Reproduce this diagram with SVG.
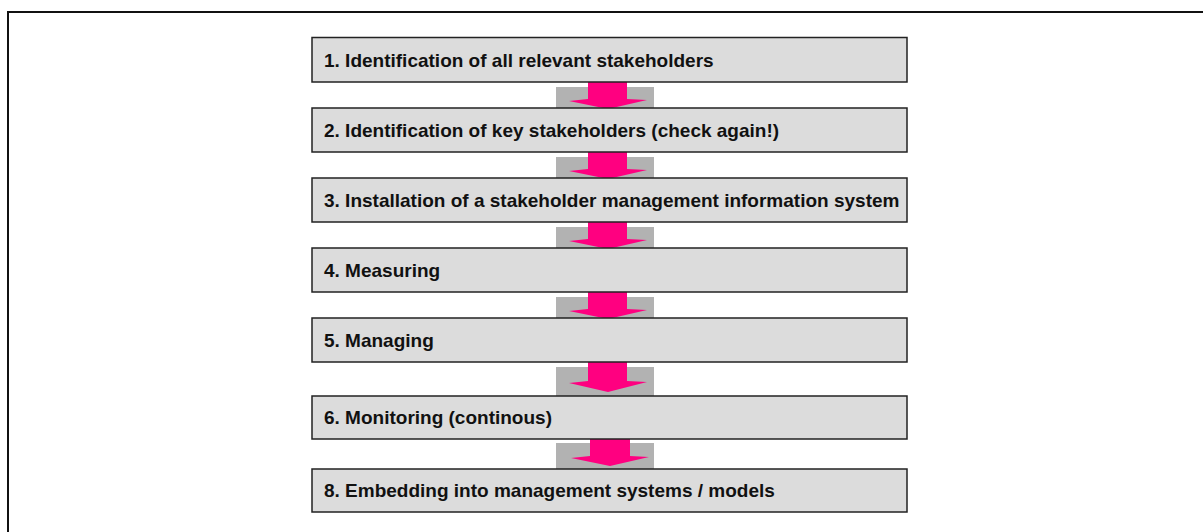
<svg xmlns="http://www.w3.org/2000/svg" width="1203" height="532" viewBox="0 0 1203 532">
<style>
.box{fill:#dcdcdc;stroke:#222;stroke-width:1.5}
.lbl{font-family:"Liberation Sans",Arial,sans-serif;font-weight:bold;font-size:19px;fill:#111}
.pad{fill:#b2b2b2}
.arr{fill:#ff0080}
</style>
<rect x="0" y="0" width="1203" height="532" fill="#fff"/>
<rect x="8" y="12" width="1300" height="600" fill="none" stroke="#111" stroke-width="2"/>
<g id="connectors">
<g transform="translate(0,82)"><rect class="pad" x="556" y="5" width="98" height="27"/><polygon class="arr" points="588,0 627,0 627,17 647,18 608,27 569,19 588,17"/></g>
<g transform="translate(0,152)"><rect class="pad" x="556" y="5" width="98" height="27"/><polygon class="arr" points="588,0 627,0 627,17 647,18 608,27 569,19 588,17"/></g>
<g transform="translate(0,222)"><rect class="pad" x="556" y="5" width="98" height="27"/><polygon class="arr" points="588,0 627,0 627,17 647,18 608,27 569,19 588,17"/></g>
<g transform="translate(0,292)"><rect class="pad" x="556" y="5" width="98" height="27"/><polygon class="arr" points="588,0 627,0 627,17 647,18 608,27 569,19 588,17"/></g>
<g transform="translate(0,362)"><rect class="pad" x="556" y="5" width="98" height="31"/><polygon class="arr" points="588,0 627,0 627,19 647,20 608,30 569,21 588,19"/></g>
<g transform="translate(0,439)"><rect class="pad" x="556" y="4" width="98" height="27"/><polygon class="arr" points="590,0 630,0 630,17 649,18 610,27 571,19 590,17"/></g>
</g>
<g id="n1"><rect class="box" x="312" y="37.5" width="595" height="44.5"/><text class="lbl" x="324" y="67">1. Identification of all relevant stakeholders</text></g>
<g id="n2"><rect class="box" x="312" y="108" width="595" height="44"/><text class="lbl" x="324" y="137">2. Identification of key stakeholders (check again!)</text></g>
<g id="n3"><rect class="box" x="312" y="178" width="595" height="44"/><text class="lbl" x="324" y="207">3. Installation of a stakeholder management information system</text></g>
<g id="n4"><rect class="box" x="312" y="248" width="595" height="44"/><text class="lbl" x="324" y="277">4. Measuring</text></g>
<g id="n5"><rect class="box" x="312" y="318" width="595" height="44"/><text class="lbl" x="324" y="347">5. Managing</text></g>
<g id="n6"><rect class="box" x="312" y="396" width="595" height="43"/><text class="lbl" x="324" y="424">6. Monitoring (continous)</text></g>
<g id="n8"><rect class="box" x="312" y="469" width="595" height="43"/><text class="lbl" x="324" y="497">8. Embedding into management systems / models</text></g>
</svg>
